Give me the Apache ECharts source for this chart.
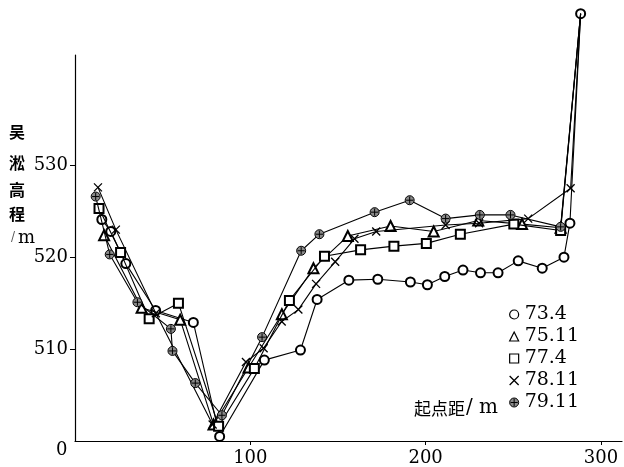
<!DOCTYPE html>
<html>
<head>
<meta charset="utf-8">
<script src="https://cdn.jsdelivr.net/npm/echarts@6/dist/echarts.min.js"></script>
<style>
  html, body { margin: 0; padding: 0; background: #fff; }
  #chart { width: 624px; height: 467px; }
</style>
</head>
<body>
<div id="chart"></div>
<script>
// survey years (legend labels)
var names = ["73.4", "75.11", "77.4", "78.11", "79.11"];

// distance from start point (m) and elevation (m), one pair per survey
var dist734 = [15.3, 20.4, 29, 46, 67.5, 82.5, 108, 128.6, 138.1, 156.2, 172.7, 191.3, 201, 210.9, 221.3, 231.3, 241.3, 252.8, 266.5, 278.9, 282.3, 288.4];
var elev734 = [524.1, 522.8, 519.3, 514.2, 512.9, 500.5, 508.8, 509.9, 515.4, 517.5, 517.6, 517.3, 517.0, 517.9, 518.6, 518.3, 518.3, 519.6, 518.8, 520.0, 523.7, 546.5];

var dist7511 = [16.6, 38, 60, 79, 99, 118, 136, 155.6, 180, 204.6, 230, 255, 277, 288.4];
var elev7511 = [522.4, 514.5, 513.2, 501.8, 508.0, 513.8, 518.8, 522.3, 523.4, 522.8, 524.0, 523.6, 523.2, 546.5];

var dist774 = [13.7, 26, 42.3, 59, 81.9, 102.3, 122.3, 142.3, 162.9, 181.9, 200.4, 219.8, 250.3, 277, 288.4];
var elev774 = [525.3, 520.5, 513.3, 515.0, 501.6, 507.9, 515.3, 520.1, 520.8, 521.2, 521.5, 522.5, 523.6, 522.9, 546.5];

var dist7811 = [13.1, 23.3, 46.1, 78.5, 97.5, 107.6, 117.9, 127.4, 137.5, 148.4, 159.4, 171.8, 211.4, 230.5, 258.5, 282.7, 288.4];
var elev7811 = [527.6, 523.0, 513.9, 501.8, 508.6, 510.1, 513.0, 514.3, 517.1, 519.5, 522.0, 522.8, 523.5, 523.7, 524.2, 527.5, 546.5];

var dist7911 = [11.8, 19.8, 35.6, 54.7, 55.6, 68.6, 83.8, 106.7, 129, 139.4, 170.9, 190.9, 211.4, 230.9, 248.4, 277, 288.4];
var elev7911 = [526.6, 520.3, 515.1, 512.2, 509.8, 506.3, 502.8, 511.3, 520.7, 522.5, 524.9, 526.2, 524.2, 524.6, 524.6, 523.3, 546.5];

var xTicks = [100, 200, 300];
var yTicks = [510, 520, 530];

var FONT = "DejaVu Serif";
var CJK = "Noto Sans CJK SC";

var chart = echarts.init(document.getElementById("chart"), null, { renderer: "canvas" });

var xPath = "path://M0,0L10,10M10,0L0,10";
var dotPath = "path://M5,0A5,5,0,1,1,4.99,0ZM1,5L9,5M5,1L5,9";

function pairs(xs, ys, hideLast) {
  return xs.map(function (x, i) {
    if (hideLast && i === xs.length - 1) {
      return { value: [x, ys[i]], symbol: "none" };
    }
    return [x, ys[i]];
  });
}

var looks = [
  { symbol: "emptyCircle", size: 9, item: { color: "#000", borderWidth: 1.1 } },
  { symbol: "emptyTriangle", size: 10, item: { color: "#000", borderWidth: 1.1 } },
  { symbol: "emptyRect", size: 9, item: { color: "#000", borderWidth: 1.1 } },
  { symbol: xPath, size: 8, item: { color: "#000", borderColor: "#000", borderWidth: 1.3 } },
  { symbol: dotPath, size: 9, item: { color: "#8a8a8a", borderColor: "#000", borderWidth: 1 } }
];

var data = [
  pairs(dist734, elev734, false),
  pairs(dist7511, elev7511, true),
  pairs(dist774, elev774, true),
  pairs(dist7811, elev7811, true),
  pairs(dist7911, elev7911, true)
];

var series = names.map(function (n, i) {
  return {
    name: n,
    type: "line",
    data: data[i],
    symbol: looks[i].symbol,
    symbolSize: looks[i].size,
    clip: false,
    itemStyle: looks[i].item,
    lineStyle: { color: "#000", width: 1.1 },
    z: 2 + i
  };
});

var legendIcons = [
  { icon: "circle", itemStyle: { color: "#fff", borderColor: "#000", borderWidth: 1.2 } },
  { icon: "triangle", itemStyle: { color: "#fff", borderColor: "#000", borderWidth: 1.2 } },
  { icon: "rect", itemStyle: { color: "#fff", borderColor: "#000", borderWidth: 1.2 } },
  { icon: xPath, itemStyle: { color: "#000", borderColor: "#000", borderWidth: 1.3 } },
  { icon: dotPath, itemStyle: { color: "#8a8a8a", borderColor: "#000", borderWidth: 1 } }
];

var option = {
  backgroundColor: "#fff",
  animation: false,
  grid: { left: 75, right: 2, top: 55, bottom: 26 },
  legend: {
    orient: "vertical",
    left: 504,
    top: 300,
    itemWidth: 9,
    itemHeight: 9,
    itemGap: 3,
    lineStyle: { width: 0, opacity: 0 },
    textStyle: { fontFamily: FONT, fontSize: 19, color: "#000", padding: [0, 0, 0, 1] },
    data: names.map(function (n, i) {
      return { name: n, icon: legendIcons[i].icon, itemStyle: legendIcons[i].itemStyle };
    })
  },
  xAxis: {
    type: "value",
    min: 0,
    max: 312,
    interval: 100,
    splitLine: { show: false },
    axisLine: { lineStyle: { color: "#000", width: 1.2 } },
    axisTick: { length: 4, customValues: xTicks, lineStyle: { color: "#000" } },
    axisLabel: { customValues: xTicks, margin: 8, fontFamily: FONT, fontSize: 18, color: "#000" }
  },
  yAxis: {
    type: "value",
    min: 500,
    max: 542,
    interval: 10,
    splitLine: { show: false },
    axisLine: { show: true, lineStyle: { color: "#000", width: 1.2 } },
    axisTick: { show: true, length: 5, customValues: yTicks, lineStyle: { color: "#000" } },
    axisLabel: { customValues: yTicks, margin: 7, fontFamily: FONT, fontSize: 18, color: "#000" }
  },
  graphic: [
    { type: "text", left: 56, top: 441, style: { text: "0", font: "18px " + FONT, fill: "#000" } },
    { type: "text", left: 9, top: 124, style: { text: "吴", font: "bold 16px " + CJK, fill: "#000" } },
    { type: "text", left: 9, top: 155, style: { text: "淞", font: "bold 16px " + CJK, fill: "#000" } },
    { type: "text", left: 9, top: 182, style: { text: "高", font: "bold 16px " + CJK, fill: "#000" } },
    { type: "text", left: 9, top: 206, style: { text: "程", font: "bold 16px " + CJK, fill: "#000" } },
    { type: "text", left: 11, top: 232, style: { text: "/", font: "12px " + FONT, fill: "#555" } },
    { type: "text", left: 18, top: 229, style: { text: "m", font: "18px " + FONT, fill: "#000" } },
    { type: "text", left: 414, top: 400, style: { text: "起点距", font: "17px " + CJK, fill: "#000" } },
    { type: "text", left: 466, top: 398, style: { text: "/ m", font: "20px " + FONT, fill: "#000" } }
  ],
  series: series
};

chart.setOption(option);
</script>
</body>
</html>
